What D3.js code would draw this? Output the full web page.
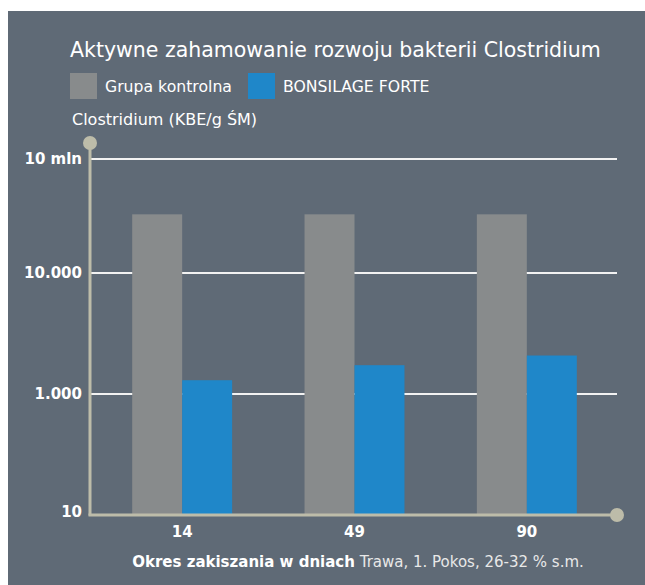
<!DOCTYPE html>
<html>
<head>
<meta charset="utf-8">
<script src="https://cdn.jsdelivr.net/npm/d3@7"></script>
<style>
  body { margin: 0; background: #ffffff; }
  svg text { font-family: "DejaVu Sans", "Liberation Sans", sans-serif; fill: #ffffff; }
</style>
</head>
<body>
<div id="chart"></div>
<script>
// data
var days = ['14', '49', '90'];
var series = ['Grupa kontrolna', 'BONSILAGE FORTE'];
var kontrolna = [350000, 350000, 350000];
var bonsilage = [1300, 1730, 2080];
var tickValues = [10, 1000, 10000, 10000000];
var tickLabels = ['10', '1.000', '10.000', '10 mln'];

var width = 645, height = 585;
var colors = {bg: '#5f6a76', gray: '#888b8c', blue: '#1f87c9', axis: '#bdbca9'};

var svg = d3.select('#chart').append('svg')
    .attr('width', width)
    .attr('height', height);

svg.append('rect')
    .attr('x', 8).attr('y', 11)
    .attr('width', width - 8).attr('height', height - 11)
    .attr('fill', colors.bg);

// piecewise log scale, the original axis is not evenly spaced
var y = d3.scaleLog()
    .domain(tickValues)
    .range([514, 394, 273, 159]);

var x0 = d3.scaleBand().domain(days).range([96, 613]).paddingInner(0.42).paddingOuter(0.21);
var x1 = d3.scaleBand().domain(series).range([0, x0.bandwidth()]);

var plotLeft = 90, plotRight = 617;

// grid lines
svg.append('g').selectAll('line')
    .data(tickValues.slice(1))
    .join('line')
    .attr('x1', plotLeft).attr('x2', plotRight)
    .attr('y1', d => y(d)).attr('y2', d => y(d))
    .attr('stroke', '#f2f2f2')
    .attr('stroke-width', 2);

// bars
var rows = days.map((d, i) => ({day: d, vals: [kontrolna[i], bonsilage[i]]}));
var groups = svg.append('g').selectAll('g')
    .data(rows)
    .join('g')
    .attr('transform', d => 'translate(' + x0(d.day) + ',0)');

groups.selectAll('rect')
    .data(d => d.vals.map((v, j) => ({s: series[j], v: v})))
    .join('rect')
    .attr('x', d => x1(d.s))
    .attr('width', x1.bandwidth())
    .attr('y', d => y(d.v))
    .attr('height', d => y(10) - y(d.v))
    .attr('fill', (d, j) => j === 0 ? colors.gray : colors.blue);

// axes
svg.append('line')
    .attr('x1', plotLeft).attr('x2', plotLeft)
    .attr('y1', 143).attr('y2', y(10) + 1.5)
    .attr('stroke', colors.axis).attr('stroke-width', 3);
svg.append('circle').attr('cx', plotLeft).attr('cy', 143).attr('r', 7).attr('fill', colors.axis);

svg.append('line')
    .attr('x1', plotLeft - 1.5).attr('x2', plotRight)
    .attr('y1', y(10) + 1).attr('y2', y(10) + 1)
    .attr('stroke', colors.axis).attr('stroke-width', 3);
svg.append('circle').attr('cx', plotRight).attr('cy', y(10) + 1).attr('r', 7).attr('fill', colors.axis);

// y tick labels
svg.append('g').selectAll('text')
    .data(tickValues)
    .join('text')
    .attr('x', 82)
    .attr('y', (d, i) => y(d) + (i === 0 ? 2.5 : 5))
    .attr('text-anchor', 'end')
    .attr('font-size', 15)
    .attr('font-weight', 'bold')
    .text((d, i) => tickLabels[i]);

// x tick labels
svg.append('g').selectAll('text')
    .data(days)
    .join('text')
    .attr('x', d => x0(d) + x0.bandwidth() / 2)
    .attr('y', 537)
    .attr('text-anchor', 'middle')
    .attr('font-size', 15)
    .attr('font-weight', 'bold')
    .text(d => d);

// title
svg.append('text')
    .attr('x', 70).attr('y', 57)
    .attr('font-size', 20.5)
    .text('Aktywne zahamowanie rozwoju bakterii Clostridium');

// legend
var legX = [70, 248];
series.forEach(function(s, i) {
    svg.append('rect')
        .attr('x', legX[i]).attr('y', 73)
        .attr('width', 27).attr('height', 26)
        .attr('fill', i === 0 ? colors.gray : colors.blue);
    svg.append('text')
        .attr('x', legX[i] + 35).attr('y', 92)
        .attr('font-size', 15.7)
        .text(s);
});

// y label
svg.append('text')
    .attr('x', 72).attr('y', 125)
    .attr('font-size', 16)
    .text('Clostridium (KBE/g ŚM)');

// footer
var foot = svg.append('text')
    .attr('x', 358).attr('y', 567)
    .attr('text-anchor', 'middle')
    .attr('font-size', 15);
foot.append('tspan').attr('font-weight', 'bold').text('Okres zakiszania w dniach');
foot.append('tspan').attr('fill', '#e8e8e8').text(' Trawa, 1. Pokos, 26-32 % s.m.');
</script>
</body>
</html>
